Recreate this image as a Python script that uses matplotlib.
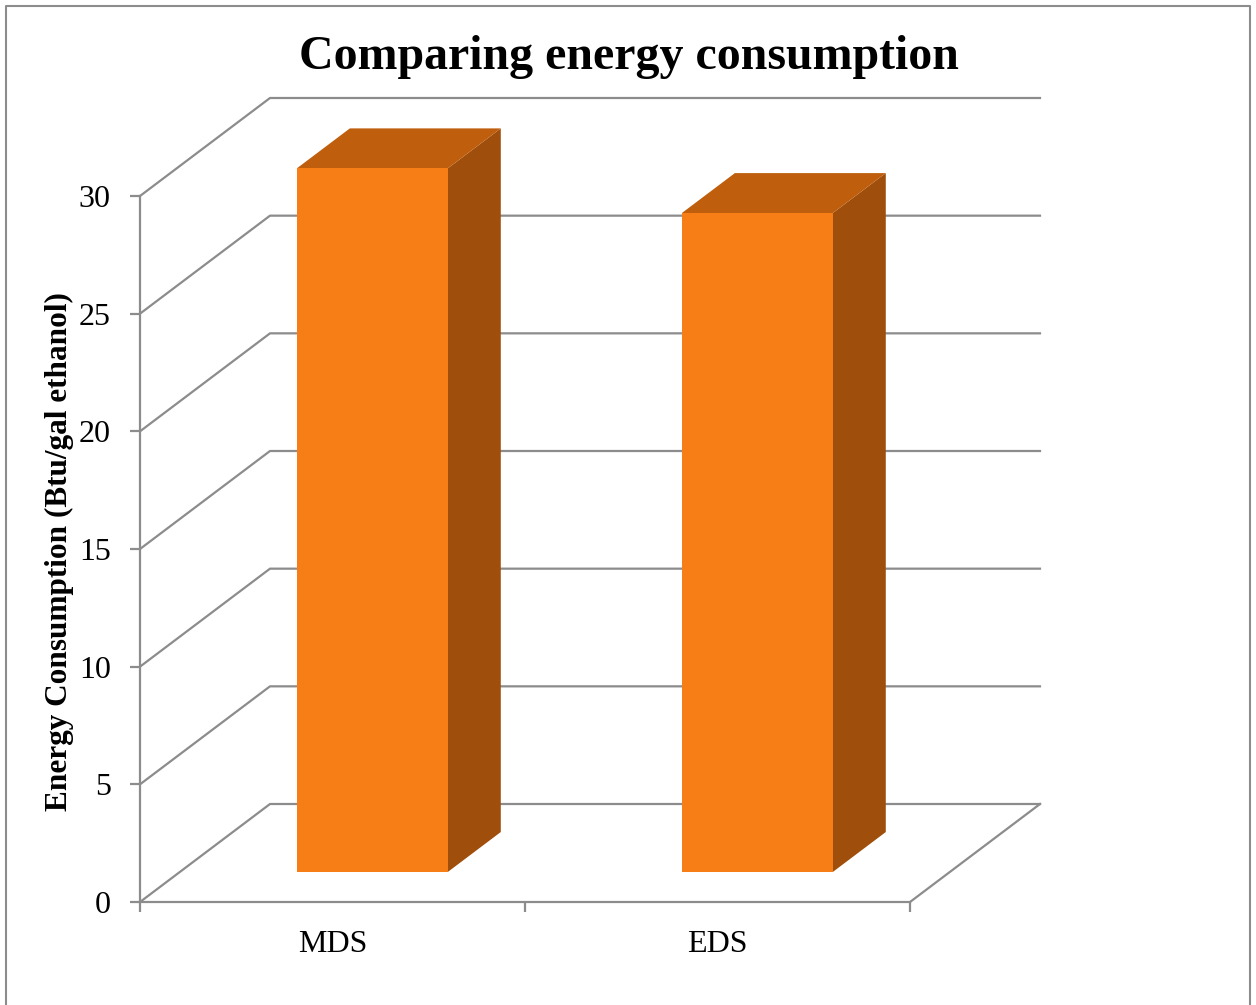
import numpy as np
import matplotlib
matplotlib.use("Agg")
import matplotlib.pyplot as plt
from matplotlib.patches import Polygon
from matplotlib.lines import Line2D

categories = ["MDS", "EDS"]
values = [29.9, 28.0]
yticks = [0, 5, 10, 15, 20, 25, 30]

front_c = "#F77D16"
top_c = "#BF5F0D"
side_c = "#9F4E0C"
grid_c = "#8C8C8C"

plt.rcParams["font.family"] = ["Liberation Serif", "DejaVu Serif"]

W, H = 1256, 1005
fig = plt.figure(figsize=(W / 100, H / 100), dpi=100)

# plot box in pixels (front plane + depth offset)
x0, x1 = 140, 1040
y_top, y_bot = 98, 902
ax = fig.add_axes([x0 / W, 1 - y_bot / H, (x1 - x0) / W, (y_bot - y_top) / H])

px_per_cat = 385.0
px_per_val = 706.0 / 30
DX = 130 / px_per_cat   # depth shift in category units
DY = 98 / px_per_val    # depth shift in value units
ymax = 30
ax.set_xlim(0, 2 + DX)
ax.set_ylim(0, ymax + DY)


def proj(x, y, f):
    return (x + f * DX, y + f * DY)


# walls: left wall diagonals + back wall horizontal lines
for v in yticks:
    a = proj(0, v, 0)
    b = proj(0, v, 1)
    c = proj(2, v, 1)
    ax.add_line(Line2D([a[0], b[0], c[0]], [a[1], b[1], c[1]],
                       color=grid_c, lw=1.6, zorder=1, clip_on=False))
# floor right edge
a = proj(2, 0, 0)
b = proj(2, 0, 1)
ax.add_line(Line2D([a[0], b[0]], [a[1], b[1]], color=grid_c, lw=1.6,
                   zorder=1, clip_on=False))

# bars
f0, f1 = 0.306, 0.714
hw = 0.196
for i, v in enumerate(values):
    c = i + 0.5
    front = [proj(c - hw, 0, f0), proj(c + hw, 0, f0),
             proj(c + hw, v, f0), proj(c - hw, v, f0)]
    top = [proj(c - hw, v, f0), proj(c + hw, v, f0),
           proj(c + hw, v, f1), proj(c - hw, v, f1)]
    side = [proj(c + hw, 0, f0), proj(c + hw, v, f0),
            proj(c + hw, v, f1), proj(c + hw, 0, f1)]
    ax.add_patch(Polygon(side, closed=True, fc=side_c, ec="none", zorder=3))
    ax.add_patch(Polygon(top, closed=True, fc=top_c, ec="none", zorder=3))
    ax.add_patch(Polygon(front, closed=True, fc=front_c, ec="none", zorder=4))

# axes
for s in ["top", "right"]:
    ax.spines[s].set_visible(False)
ax.spines["left"].set_bounds(0, ymax)
ax.spines["bottom"].set_bounds(0, 2)
for s in ["left", "bottom"]:
    ax.spines[s].set_color(grid_c)
    ax.spines[s].set_linewidth(1.6)
    ax.spines[s].set_zorder(2)

ax.set_yticks(yticks)
ax.set_yticklabels([str(t) for t in yticks])
ax.tick_params(axis="y", length=7, width=1.6, color=grid_c, pad=14,
               labelsize=23)
ax.set_xticks([0, 1, 2])
ax.set_xticklabels([])
ax.set_xticks([0.5, 1.5], minor=True)
ax.set_xticklabels(categories, minor=True)
ax.tick_params(axis="x", which="major", length=7, width=1.6, color=grid_c)
ax.tick_params(axis="x", which="minor", length=0, pad=20, labelsize=23)

ax.set_ylabel("Energy Consumption (Btu/gal ethanol)", fontsize=22.5,
              fontweight="bold")
ax.yaxis.set_label_coords((74 - x0) / (x1 - x0), (y_bot - 552) / (y_bot - y_top))

fig.text(629 / W, 1 - 57 / H, "Comparing energy consumption", ha="center",
         va="center", fontsize=34.5, fontweight="bold")

# chart area border
bl, bt, br = 6, 6, 1250
fig.add_artist(Line2D([bl / W, bl / W, br / W, br / W],
                      [0, 1 - bt / H, 1 - bt / H, 0],
                      transform=fig.transFigure, color=grid_c, lw=1.5))

fig.savefig("out.png", dpi=100)
